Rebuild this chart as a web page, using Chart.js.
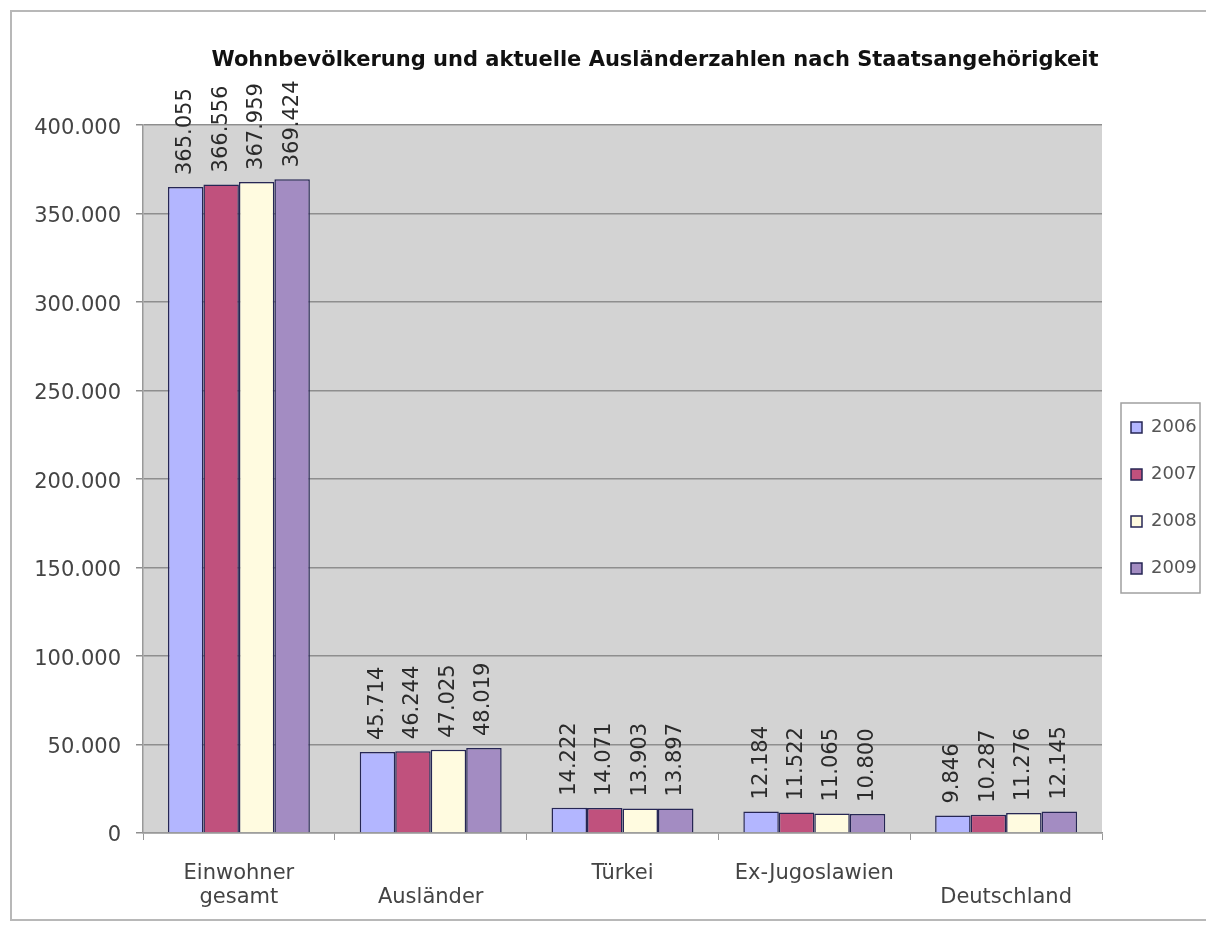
<!DOCTYPE html>
<html>
<head>
<meta charset="utf-8">
<script src="https://cdn.jsdelivr.net/npm/chart.js@4.4.0/dist/chart.umd.min.js"></script>
<style>
  html, body { margin: 0; padding: 0; background: #fff; overflow: hidden; }
  #wrap { position: relative; width: 1206px; height: 926px; }
  canvas { display: block; }
</style>
</head>
<body>
<div id="wrap"><canvas id="myChart" width="1206" height="926"></canvas></div>
<script>
// category labels (some pushed to a second row like in the original)
const categories = [['Einwohner', 'gesamt'], ['', 'Ausländer'], ['Türkei'], ['Ex-Jugoslawien'], ['', 'Deutschland']];
const years = ['2006', '2007', '2008', '2009'];
const values2006 = [365055, 45714, 14222, 12184, 9846];
const values2007 = [366556, 46244, 14071, 11522, 10287];
const values2008 = [367959, 47025, 13903, 11065, 11276];
const values2009 = [369424, 48019, 13897, 10800, 12145];
const yTicks = [0, 50000, 100000, 150000, 200000, 250000, 300000, 350000, 400000];

const colors = ['#b3b6ff', '#c0517d', '#fffbe0', '#a38cc2'];
const font = 'DejaVu Sans';

// 365055 -> "365.055"
const fmt = v => String(v).replace(/\B(?=(\d{3})+(?!\d))/g, '.');

// grey plot area + outer frame
const background = {
  id: 'background',
  beforeDraw(chart) {
    const { ctx, chartArea: a } = chart;
    ctx.save();
    ctx.strokeStyle = '#b8b8b8';
    ctx.lineWidth = 2;
    ctx.beginPath();
    ctx.moveTo(1206, 11);
    ctx.lineTo(11, 11);
    ctx.lineTo(11, 920);
    ctx.lineTo(1206, 920);
    ctx.stroke();
    ctx.fillStyle = '#d3d3d3';
    ctx.fillRect(a.left, a.top, a.right - a.left, a.bottom - a.top);
    ctx.restore();
  }
};

// move title and legend to where the original has them
const placement = {
  id: 'placement',
  afterLayout(chart) {
    chart.titleBlock.left += 57;
    chart.titleBlock.right += 57;
    chart.legend.top += 19;
    chart.legend.bottom += 19;
  },
  afterDraw(chart) {
    const { ctx } = chart;
    ctx.save();
    ctx.strokeStyle = '#a0a0a0';
    ctx.lineWidth = 1.5;
    ctx.strokeRect(1121, 403, 79, 190);
    ctx.restore();
  }
};

// rotated value labels above each bar
const barLabels = {
  id: 'barLabels',
  afterDatasetsDraw(chart) {
    const { ctx } = chart;
    ctx.save();
    ctx.font = '21px ' + font;
    ctx.fillStyle = '#2a2a2a';
    ctx.textAlign = 'left';
    ctx.textBaseline = 'middle';
    chart.data.datasets.forEach((ds, i) => {
      chart.getDatasetMeta(i).data.forEach((bar, j) => {
        ctx.save();
        ctx.translate(bar.x, bar.y - 12);
        ctx.rotate(-Math.PI / 2);
        ctx.fillText(fmt(ds.data[j]), 0, 0);
        ctx.restore();
      });
    });
    ctx.restore();
  }
};

const datasets = [values2006, values2007, values2008, values2009].map((vals, i) => ({
  label: years[i],
  data: vals,
  backgroundColor: colors[i],
  borderColor: '#262654',
  borderWidth: 1.5,
  categoryPercentage: 0.74,
  barPercentage: 1
}));

const ctx = document.getElementById('myChart');
const myChart = new Chart(ctx, {
  type: 'bar',
  data: { labels: categories, datasets: datasets },
  options: {
    responsive: false,
    animation: false,
    layout: { padding: { left: 0, right: 10, top: 0, bottom: 0 } },
    plugins: {
      title: {
        display: true,
        text: 'Wohnbevölkerung und aktuelle Ausländerzahlen nach Staatsangehörigkeit',
        color: '#111',
        font: { family: font, size: 21, weight: 'bold' },
        padding: { top: 48, bottom: 52 }
      },
      legend: {
        position: 'right',
        fullSize: false,
        maxWidth: 94,
        labels: {
          boxWidth: 11,
          boxHeight: 11,
          padding: 29,
          color: '#555',
          font: { family: font, size: 18 }
        }
      },
      tooltip: { enabled: false }
    },
    scales: {
      x: {
        grid: { display: true, drawOnChartArea: false, offset: true, color: '#999', tickLength: 7 },
        border: { color: '#999', width: 1.5 },
        ticks: {
          color: '#444',
          padding: 21,
          maxRotation: 0,
          autoSkip: false,
          font: { family: font, size: 21, lineHeight: 1.15 }
        },
        afterFit: s => { s.height = 93; }
      },
      y: {
        min: 0,
        max: 400000,
        afterBuildTicks: s => { s.ticks = yTicks.map(v => ({ value: v })); },
        grid: { color: '#8e8e8e', lineWidth: 1.5, tickLength: 7 },
        border: { color: '#999', width: 1.5 },
        ticks: {
          color: '#444',
          padding: 15,
          labelOffset: 3,
          font: { family: font, size: 21 },
          callback: v => fmt(v)
        },
        afterFit: s => { s.width = 143; }
      }
    }
  },
  plugins: [background, placement, barLabels]
});
</script>
</body>
</html>
